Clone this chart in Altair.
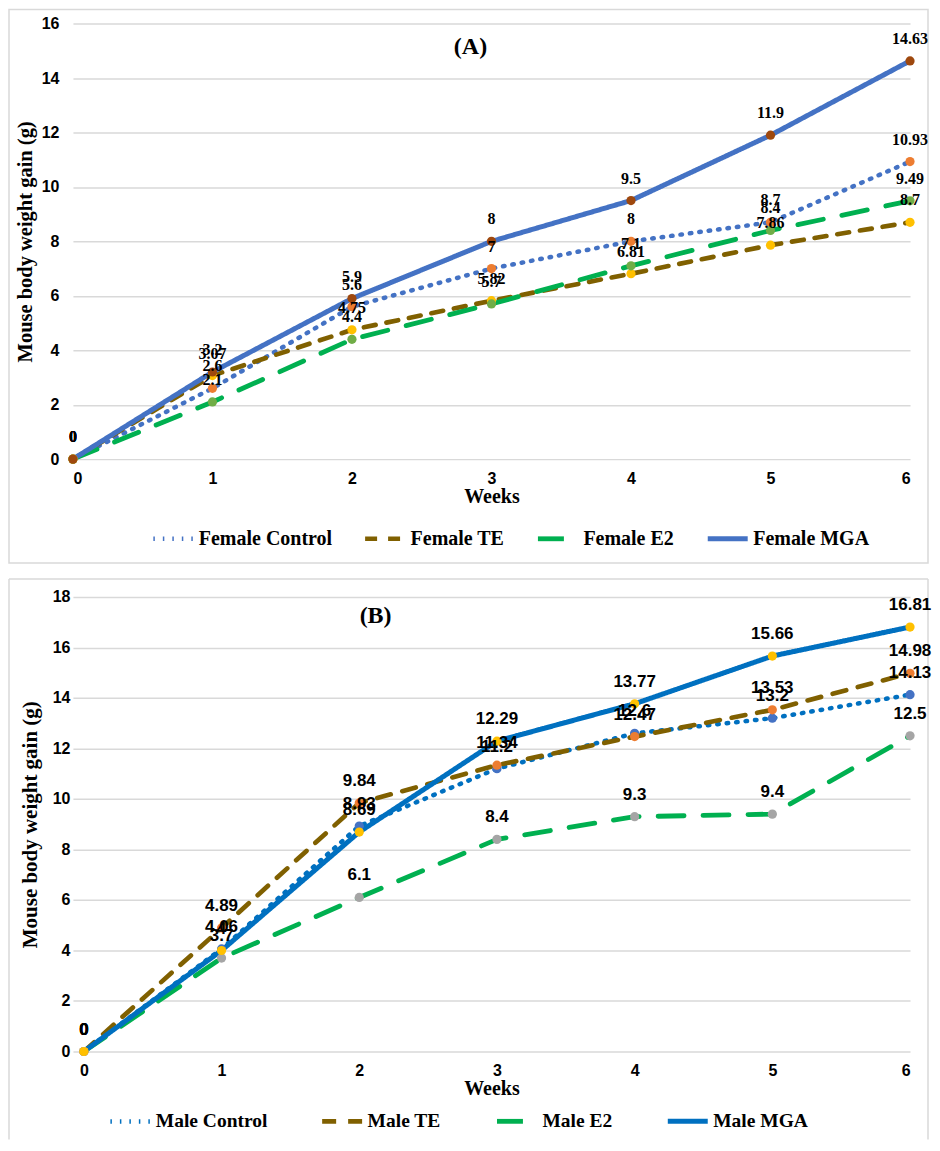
import altair as alt
import pandas as pd

weeks = [0, 1, 2, 3, 4, 5, 6]

female_series = ["Female Control", "Female TE", "Female E2", "Female MGA"]
female_control = [0, 2.6, 5.6, 7, 8, 8.7, 10.93]
female_te = [0, 3.07, 4.75, 5.82, 6.81, 7.86, 8.7]
female_e2 = [0, 2.1, 4.4, 5.7, 7.1, 8.4, 9.49]
female_mga = [0, 3.2, 5.9, 8, 9.5, 11.9, 14.63]

male_series = ["Male Control", "Male TE", "Male E2", "Male MGA"]
male_control = [0, 4.06, 8.93, 11.2, 12.6, 13.2, 14.13]
male_te = [0, 4.89, 9.84, 11.34, 12.47, 13.53, 14.98]
male_e2 = [0, 3.7, 6.1, 8.4, 9.3, 9.4, 12.5]
male_mga = [0, 4.0, 8.69, 12.29, 13.77, 15.66, 16.81]

y_ticks_a = [0, 2, 4, 6, 8, 10, 12, 14, 16]
y_ticks_b = [0, 2, 4, 6, 8, 10, 12, 14, 16, 18]


def long_df(names, lists):
    rows = []
    for name, vals in zip(names, lists):
        for wk, v in zip(weeks, vals):
            rows.append({"week": wk, "value": v, "series": name, "label": f"{v:g}"})
    return pd.DataFrame(rows)


df_a = long_df(female_series, [female_control, female_te, female_e2, female_mga])
df_b = long_df(male_series, [male_control, male_te, male_e2, male_mga])

one = pd.DataFrame({"k": [0]})
GRID = "#d9d9d9"
SERIF = "Liberation Serif"
SANS = "Liberation Sans"


def panel(df, series, line_colors, marker_colors, dashes, widths, y_max, y_ticks,
          x_domain, w, h, title, title_dx, title_offset, label_font, label_fs,
          legend_x, legend_y, legend_fs, col_pad, label_pad_y, ytitle_fs, ytitle_pad,
          closed_border):
    x = alt.X("week:Q", scale=alt.Scale(domain=x_domain, nice=False, zero=False),
              axis=alt.Axis(values=weeks, format="d", title="Weeks", grid=False,
                            domain=False, ticks=False, labelFont=SANS, labelFontSize=16,
                            labelFontWeight="bold", labelColor="black", labelPadding=11,
                            titleFont=SERIF, titleFontSize=20, titleFontWeight="bold",
                            titleColor="black", titlePadding=0))
    y = alt.Y("value:Q", scale=alt.Scale(domain=[0, y_max], nice=False),
              axis=alt.Axis(values=y_ticks, title="Mouse body weight gain (g)", grid=True,
                            gridColor=GRID, gridWidth=1.5, domain=False, ticks=False,
                            labelFont=SANS, labelFontSize=16, labelFontWeight="bold",
                            labelColor="black", labelPadding=label_pad_y,
                            titleFont=SERIF, titleFontSize=ytitle_fs, titleFontWeight="bold",
                            titleColor="black", titlePadding=ytitle_pad))
    leg = alt.Legend(title=None, orient="none", legendX=legend_x, legendY=legend_y,
                     direction="horizontal", symbolType="stroke", symbolSize=1600,
                     symbolStrokeWidth=4.5, labelFont=SERIF, labelFontSize=legend_fs,
                     labelFontWeight="bold", labelColor="black", columnPadding=col_pad,
                     labelOffset=3, padding=0, labelLimit=400)
    base = alt.Chart(df)
    lines = base.mark_line(strokeCap="round", strokeJoin="round").encode(
        x=x, y=y,
        color=alt.Color("series:N", scale=alt.Scale(domain=series, range=line_colors), legend=leg),
        strokeDash=alt.StrokeDash("series:N", scale=alt.Scale(domain=series, range=dashes), legend=leg),
        strokeWidth=alt.StrokeWidth("series:N", scale=alt.Scale(domain=series, range=widths), legend=None),
    )
    points = base.mark_circle(size=85, opacity=1).encode(
        x=x, y=y,
        fill=alt.Fill("series:N", scale=alt.Scale(domain=series, range=marker_colors), legend=None),
    )
    labels = base.mark_text(align="center", baseline="middle", dy=-22, font=label_font,
                            fontSize=label_fs, fontWeight="bold", color="black").encode(
        x=x, y=y, text="label:N")
    if closed_border:
        border = [alt.Chart(one).mark_rect(fill="white", fillOpacity=0, stroke=GRID, strokeWidth=1.5).encode(
            x=alt.value(-64), x2=alt.value(w + 18), y=alt.value(-14), y2=alt.value(h + 104))]
    else:
        border = [
            alt.Chart(one).mark_rule(color=GRID, strokeWidth=1.5).encode(
                x=alt.value(-64), x2=alt.value(w + 18), y=alt.value(-18), y2=alt.value(-18)),
            alt.Chart(one).mark_rule(color=GRID, strokeWidth=1.5).encode(
                x=alt.value(-64), x2=alt.value(-64), y=alt.value(-18), y2=alt.value(h + 88)),
            alt.Chart(one).mark_rule(color=GRID, strokeWidth=1.5).encode(
                x=alt.value(w + 18), x2=alt.value(w + 18), y=alt.value(-18), y2=alt.value(h + 88)),
        ]
    return alt.layer(*border, lines, points, labels).properties(
        width=w, height=h,
        title=alt.TitleParams(title, font=SERIF, fontSize=24, fontWeight="bold", color="black",
                              anchor="middle", dx=title_dx, offset=title_offset),
    )


panel_a = panel(
    df_a, female_series,
    ["#4472C4", "#806000", "#00B050", "#4472C4"],
    ["#ED7D31", "#FFC000", "#70AD47", "#9E480E"],
    [[1.5, 8], [12, 11], [26, 19], [1, 0]],
    [4.5, 5, 5, 3.5],
    16, y_ticks_a, [0, 6], 838, 436, "(A)", -21, -50, SERIF, 16,
    78, 493, 20, 23, 14, 20.5, 6, True,
)

panel_b = panel(
    df_b, male_series,
    ["#0070C0", "#806000", "#00B050", "#0070C0"],
    ["#4472C4", "#ED7D31", "#A5A5A5", "#FFC000"],
    [[1.5, 8], [14, 12], [26, 19], [1, 0]],
    [4.5, 5, 5, 2],
    18, y_ticks_b, [-0.0793, 6], 838, 455, "(B)", -116, -50, SANS, 17,
    35, 502, 19.5, 45, 3, 21, 12, False,
)

chart = alt.vconcat(panel_a, panel_b, spacing=14).resolve_scale(
    x="independent", y="independent", color="independent",
    strokeDash="independent", strokeWidth="independent", fill="independent",
).resolve_legend(color="independent", strokeDash="independent").properties(
    padding=0
).configure_view(strokeWidth=0)

chart.save("out.html", embed_options={"renderer": "svg", "actions": False})
